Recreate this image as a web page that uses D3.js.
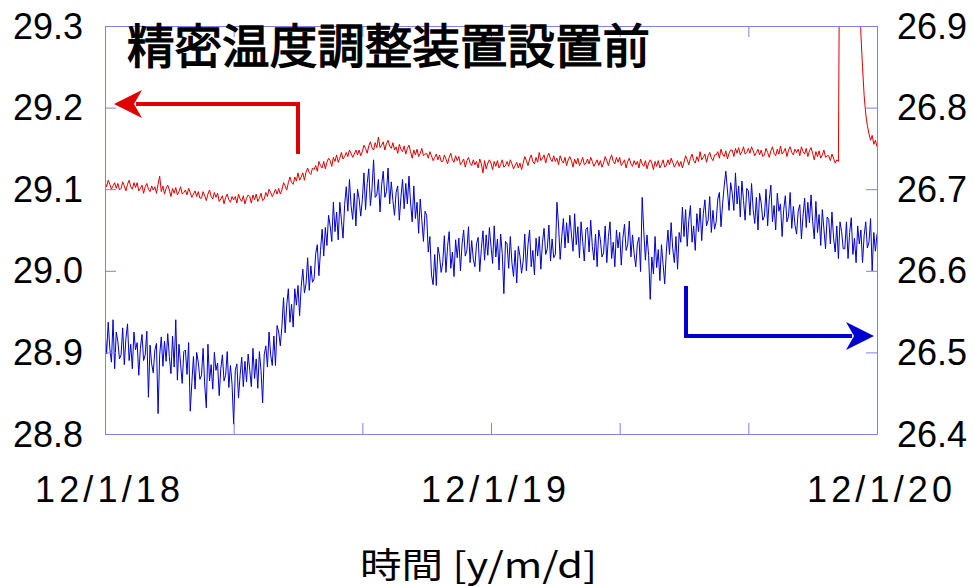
<!DOCTYPE html>
<html>
<head>
<meta charset="utf-8">
<script src="https://cdn.jsdelivr.net/npm/d3@7"></script>
<style>
  html, body { margin: 0; padding: 0; background: #fff; }
  svg { display: block; }
  .num { font-family: "Liberation Sans", Arial, sans-serif; font-size: 36px; fill: #000; }
  .jp { font-family: "Noto Sans CJK JP", sans-serif; fill: #000; }
</style>
</head>
<body>
<svg id="chart" width="974" height="586"></svg>
<script>
// ---- data (time in hours from 12/1/18 00:00, sampled every 0.1 h) ----
const timeStepHours = 0.1;
const xTickHours = [0, 8, 16, 24, 32, 40, 48];
const xLabelHours = [0, 24, 48];
const xLabels = ["12/1/18", "12/1/19", "12/1/20"];
const leftTicks = [28.8, 28.9, 29.0, 29.1, 29.2, 29.3];
const rightTicks = [26.4, 26.5, 26.6, 26.7, 26.8, 26.9];
const titleText = "精密温度調整装置設置前";
const xAxisTitle = "時間 [y/m/d]";

// red series (left axis), one row per hour
const redValues = [
  29.109,29.103,29.111,29.106,29.100,29.104,29.108,29.101,29.107,29.099,
  29.101,29.109,29.104,29.098,29.106,29.111,29.103,29.100,29.108,29.102,
  29.108,29.098,29.101,29.105,29.095,29.103,29.107,29.100,29.097,29.104,
  29.099,29.103,29.095,29.106,29.116,29.097,29.104,29.094,29.101,29.105,
  29.099,29.091,29.101,29.095,29.102,29.093,29.097,29.103,29.094,29.096,
  29.099,29.093,29.101,29.096,29.090,29.094,29.098,29.091,29.097,29.089,
  29.089,29.097,29.092,29.086,29.094,29.099,29.091,29.088,29.096,29.090,
  29.095,29.085,29.088,29.092,29.082,29.090,29.094,29.087,29.084,29.091,
  29.087,29.091,29.083,29.094,29.088,29.085,29.092,29.082,29.089,29.093,
  29.091,29.083,29.093,29.087,29.094,29.085,29.089,29.095,29.086,29.088,
  29.096,29.091,29.100,29.096,29.091,29.095,29.100,29.094,29.101,29.094,
  29.099,29.108,29.104,29.099,29.108,29.115,29.108,29.106,29.115,29.110,
  29.120,29.111,29.115,29.120,29.111,29.121,29.126,29.120,29.118,29.126,
  29.124,29.129,29.122,29.134,29.129,29.126,29.134,29.125,29.133,29.138,
  29.135,29.128,29.139,29.134,29.142,29.133,29.138,29.145,29.137,29.140,
  29.145,29.140,29.148,29.144,29.139,29.143,29.148,29.142,29.148,29.141,
  29.146,29.154,29.150,29.144,29.153,29.158,29.151,29.148,29.157,29.151,
  29.164,29.151,29.154,29.158,29.148,29.156,29.160,29.153,29.150,29.157,
  29.148,29.152,29.144,29.155,29.149,29.146,29.153,29.143,29.150,29.154,
  29.146,29.138,29.148,29.142,29.149,29.140,29.144,29.150,29.141,29.143,
  29.144,29.138,29.146,29.141,29.135,29.139,29.143,29.136,29.142,29.134,
  29.134,29.142,29.137,29.131,29.139,29.144,29.136,29.133,29.141,29.135,
  29.140,29.130,29.133,29.137,29.127,29.135,29.139,29.132,29.129,29.136,
  29.130,29.134,29.126,29.137,29.131,29.120,29.135,29.125,29.132,29.136,
  29.132,29.124,29.134,29.128,29.135,29.126,29.130,29.136,29.127,29.129,
  29.134,29.128,29.136,29.131,29.125,29.129,29.133,29.126,29.132,29.124,
  29.132,29.140,29.135,29.129,29.137,29.142,29.134,29.131,29.139,29.133,
  29.145,29.135,29.138,29.142,29.132,29.140,29.144,29.137,29.134,29.141,
  29.134,29.138,29.130,29.141,29.135,29.132,29.139,29.129,29.136,29.140,
  29.135,29.127,29.137,29.131,29.138,29.129,29.133,29.139,29.130,29.132,
  29.137,29.131,29.139,29.134,29.128,29.132,29.136,29.129,29.135,29.127,
  29.132,29.140,29.135,29.129,29.137,29.142,29.134,29.131,29.139,29.133,
  29.139,29.129,29.132,29.136,29.126,29.134,29.138,29.131,29.128,29.135,
  29.130,29.134,29.126,29.137,29.131,29.128,29.135,29.125,29.132,29.136,
  29.132,29.124,29.134,29.128,29.135,29.126,29.130,29.136,29.127,29.129,
  29.136,29.130,29.138,29.133,29.127,29.131,29.135,29.128,29.134,29.126,
  29.133,29.141,29.136,29.130,29.138,29.143,29.135,29.132,29.140,29.134,
  29.146,29.136,29.139,29.143,29.133,29.141,29.145,29.138,29.135,29.142,
  29.142,29.146,29.138,29.149,29.143,29.140,29.147,29.137,29.144,29.148,
  29.148,29.140,29.150,29.144,29.151,29.142,29.146,29.152,29.143,29.145,
  29.150,29.144,29.152,29.147,29.141,29.145,29.149,29.142,29.148,29.140,
  29.142,29.150,29.145,29.139,29.147,29.152,29.144,29.141,29.149,29.143,
  29.153,29.143,29.146,29.150,29.140,29.148,29.152,29.145,29.142,29.149,
  29.145,29.149,29.141,29.152,29.146,29.143,29.150,29.140,29.147,29.151,
  29.144,29.136,29.146,29.140,29.147,29.138,29.142,29.148,29.139,29.141,
  29.141,29.135,29.143,29.138,29.132,29.136,29.134,29.500,29.700,29.750,
  29.750,29.750,29.750,29.720,29.680,29.630,29.570,29.500,29.430,29.360,
  29.290,29.250,29.215,29.192,29.178,29.168,29.160,29.166,29.155,29.160,
  29.152
];

// blue series (right axis), one row per hour
const blueValues = [
  26.528,26.498,26.537,26.505,26.488,26.540,26.480,26.525,26.513,26.492,
  26.497,26.530,26.485,26.517,26.535,26.490,26.510,26.480,26.525,26.503,
  26.512,26.472,26.505,26.522,26.490,26.497,26.526,26.445,26.509,26.486,
  26.475,26.503,26.511,26.425,26.497,26.519,26.483,26.514,26.489,26.523,
  26.495,26.474,26.520,26.482,26.540,26.466,26.510,26.486,26.462,26.501,
  26.503,26.473,26.512,26.428,26.463,26.495,26.455,26.500,26.488,26.467,
  26.472,26.505,26.460,26.432,26.510,26.465,26.485,26.455,26.500,26.478,
  26.487,26.447,26.480,26.497,26.465,26.472,26.501,26.457,26.484,26.461,
  26.412,26.478,26.486,26.444,26.472,26.494,26.458,26.489,26.464,26.498,
  26.478,26.458,26.505,26.468,26.492,26.456,26.501,26.478,26.438,26.497,
  26.508,26.482,26.525,26.497,26.484,26.520,26.484,26.533,26.525,26.508,
  26.532,26.567,26.524,26.558,26.578,26.537,26.559,26.531,26.578,26.558,
  26.582,26.545,26.581,26.602,26.573,26.584,26.616,26.576,26.606,26.586,
  26.590,26.621,26.632,26.594,26.625,26.651,26.618,26.653,26.631,26.668,
  26.655,26.636,26.684,26.648,26.672,26.638,26.684,26.662,26.640,26.681,
  26.703,26.673,26.712,26.680,26.663,26.695,26.655,26.700,26.688,26.667,
  26.687,26.720,26.675,26.707,26.725,26.680,26.700,26.736,26.690,26.693,
  26.712,26.672,26.705,26.722,26.690,26.697,26.726,26.682,26.709,26.686,
  26.668,26.696,26.704,26.662,26.690,26.712,26.676,26.707,26.682,26.716,
  26.683,26.660,26.704,26.664,26.684,26.646,26.688,26.662,26.636,26.673,
  26.668,26.623,26.642,26.595,26.583,26.620,26.582,26.629,26.618,26.598,
  26.610,26.643,26.598,26.630,26.648,26.603,26.623,26.593,26.638,26.616,
  26.640,26.600,26.633,26.650,26.618,26.625,26.654,26.610,26.637,26.614,
  26.605,26.633,26.641,26.599,26.627,26.649,26.613,26.644,26.619,26.653,
  26.630,26.609,26.655,26.617,26.639,26.601,26.645,26.621,26.572,26.636,
  26.633,26.603,26.642,26.610,26.593,26.625,26.585,26.630,26.618,26.597,
  26.612,26.645,26.600,26.632,26.650,26.605,26.625,26.595,26.640,26.618,
  26.642,26.602,26.635,26.652,26.620,26.627,26.656,26.612,26.639,26.616,
  26.620,26.684,26.656,26.614,26.642,26.664,26.628,26.659,26.634,26.668,
  26.645,26.624,26.670,26.632,26.654,26.616,26.660,26.636,26.612,26.651,
  26.653,26.623,26.662,26.630,26.613,26.645,26.605,26.650,26.638,26.617,
  26.622,26.655,26.610,26.642,26.660,26.615,26.635,26.605,26.650,26.628,
  26.647,26.607,26.640,26.657,26.625,26.632,26.661,26.617,26.644,26.621,
  26.605,26.633,26.641,26.599,26.690,26.649,26.613,26.644,26.619,26.565,
  26.617,26.596,26.642,26.604,26.626,26.588,26.632,26.608,26.584,26.623,
  26.650,26.620,26.659,26.627,26.610,26.642,26.602,26.647,26.635,26.678,
  26.642,26.675,26.630,26.662,26.680,26.635,26.655,26.625,26.670,26.648,
  26.677,26.637,26.670,26.687,26.655,26.662,26.691,26.647,26.674,26.651,
  26.660,26.688,26.696,26.654,26.682,26.704,26.722,26.699,26.674,26.708,
  26.695,26.674,26.720,26.682,26.704,26.666,26.710,26.686,26.662,26.701,
  26.698,26.668,26.707,26.675,26.658,26.690,26.650,26.695,26.683,26.662,
  26.667,26.700,26.655,26.687,26.705,26.660,26.680,26.650,26.695,26.673,
  26.682,26.642,26.675,26.692,26.660,26.667,26.696,26.652,26.679,26.656,
  26.645,26.673,26.681,26.639,26.667,26.689,26.653,26.684,26.659,26.693,
  26.660,26.639,26.685,26.647,26.669,26.631,26.675,26.651,26.627,26.666,
  26.663,26.633,26.672,26.640,26.623,26.655,26.615,26.660,26.648,26.627,
  26.627,26.660,26.615,26.647,26.665,26.620,26.640,26.610,26.655,26.633,
  26.650,26.610,26.643,26.660,26.628,26.635,26.664,26.600,26.647,26.624,
  26.645
];

// ---- layout ----
const svg = d3.select("#chart");
const plot = { left: 105, right: 877, top: 26, bottom: 434 };
const axisColor = "#7f7ff0";
const redColor = "#e00000";
const blueColor = "#0000d0";
const tickLen = 11;

const x = d3.scaleLinear().domain([0, 48]).range([plot.left, plot.right]);
const yL = d3.scaleLinear().domain([28.8, 29.3]).range([plot.bottom, plot.top]);
const yR = d3.scaleLinear().domain([26.4, 26.9]).range([plot.bottom, plot.top]);

svg.append("defs").append("clipPath").attr("id", "clip")
  .append("rect")
  .attr("x", plot.left).attr("y", plot.top)
  .attr("width", plot.right - plot.left).attr("height", plot.bottom - plot.top);

// data lines
const redData = redValues.map((v, i) => [i * timeStepHours, v]);
const blueData = blueValues.map((v, i) => [i * timeStepHours, v]);

svg.append("path")
  .datum(blueData)
  .attr("clip-path", "url(#clip)")
  .attr("fill", "none")
  .attr("stroke", blueColor)
  .attr("stroke-width", 1)
  .attr("d", d3.line().x(d => x(d[0])).y(d => yR(d[1])));

svg.append("path")
  .datum(redData)
  .attr("clip-path", "url(#clip)")
  .attr("fill", "none")
  .attr("stroke", redColor)
  .attr("stroke-width", 1)
  .attr("d", d3.line().x(d => x(d[0])).y(d => yL(d[1])));

// axes (frame with inward ticks)
const bottomAxis = d3.axisBottom(x).tickValues(xTickHours).tickSizeInner(-tickLen).tickSizeOuter(0).tickFormat("");
const topAxis = d3.axisTop(x).tickValues(xTickHours).tickSizeInner(-tickLen).tickSizeOuter(0).tickFormat("");
const leftAxis = d3.axisLeft(yL).tickValues(leftTicks).tickSizeInner(-tickLen).tickSizeOuter(0).tickFormat("");
const rightAxis = d3.axisRight(yR).tickValues(rightTicks).tickSizeInner(-tickLen).tickSizeOuter(0).tickFormat("");

function styleAxis(g) {
  g.selectAll("path, line").attr("stroke", axisColor).attr("stroke-width", 1);
}
svg.append("g").attr("transform", `translate(0,${plot.bottom})`).call(bottomAxis).call(styleAxis);
svg.append("g").attr("transform", `translate(0,${plot.top})`).call(topAxis).call(styleAxis);
svg.append("g").attr("transform", `translate(${plot.left},0)`).call(leftAxis).call(styleAxis);
svg.append("g").attr("transform", `translate(${plot.right},0)`).call(rightAxis).call(styleAxis);

// tick labels
svg.append("g").selectAll("text").data(leftTicks).join("text")
  .attr("class", "num")
  .attr("x", 83).attr("y", d => yL(d))
  .attr("text-anchor", "end").attr("dominant-baseline", "central")
  .text(d => d.toFixed(1));

svg.append("g").selectAll("text").data(rightTicks).join("text")
  .attr("class", "num")
  .attr("x", 897).attr("y", d => yR(d))
  .attr("text-anchor", "start").attr("dominant-baseline", "central")
  .text(d => d.toFixed(1));

svg.append("g").selectAll("text").data(xLabelHours).join("text")
  .attr("class", "num")
  .attr("x", d => x(d) + 2.5 - 72.5).attr("y", 489)
  .attr("dominant-baseline", "central")
  .attr("textLength", 145).attr("lengthAdjust", "spacing")
  .text((d, i) => xLabels[i]);

// titles
svg.append("text").attr("class", "jp")
  .attr("x", 127).attr("y", 42)
  .attr("font-size", 47).attr("font-weight", 400)
  .attr("stroke", "#000").attr("stroke-width", 1.3)
  .attr("dominant-baseline", "central")
  .attr("textLength", 523).attr("lengthAdjust", "spacingAndGlyphs")
  .text(titleText);

svg.append("text").attr("class", "jp")
  .attr("x", 360).attr("y", 562)
  .attr("font-size", 35)
  .attr("dominant-baseline", "central")
  .attr("textLength", 237).attr("lengthAdjust", "spacingAndGlyphs")
  .text(xAxisTitle);

// arrows (annotation)
function arrow(points, color) {
  const pts = points.map(p => p.join(",")).join(" ");
  svg.append("polyline").attr("points", pts)
    .attr("fill", "none").attr("stroke", color).attr("stroke-width", 4);
}
const redArrowY = 104;
arrow([[298, 154], [298, redArrowY], [136, redArrowY]], redColor);
svg.append("path")
  .attr("d", `M114,${redArrowY} L142,${redArrowY - 14} L134,${redArrowY} L142,${redArrowY + 14} Z`)
  .attr("fill", redColor);
const blueArrowY = 336;
arrow([[686, 286], [686, blueArrowY], [852, blueArrowY]], blueColor);
svg.append("path")
  .attr("d", `M874,${blueArrowY} L846,${blueArrowY - 14} L854,${blueArrowY} L846,${blueArrowY + 14} Z`)
  .attr("fill", blueColor);
</script>
</body>
</html>
